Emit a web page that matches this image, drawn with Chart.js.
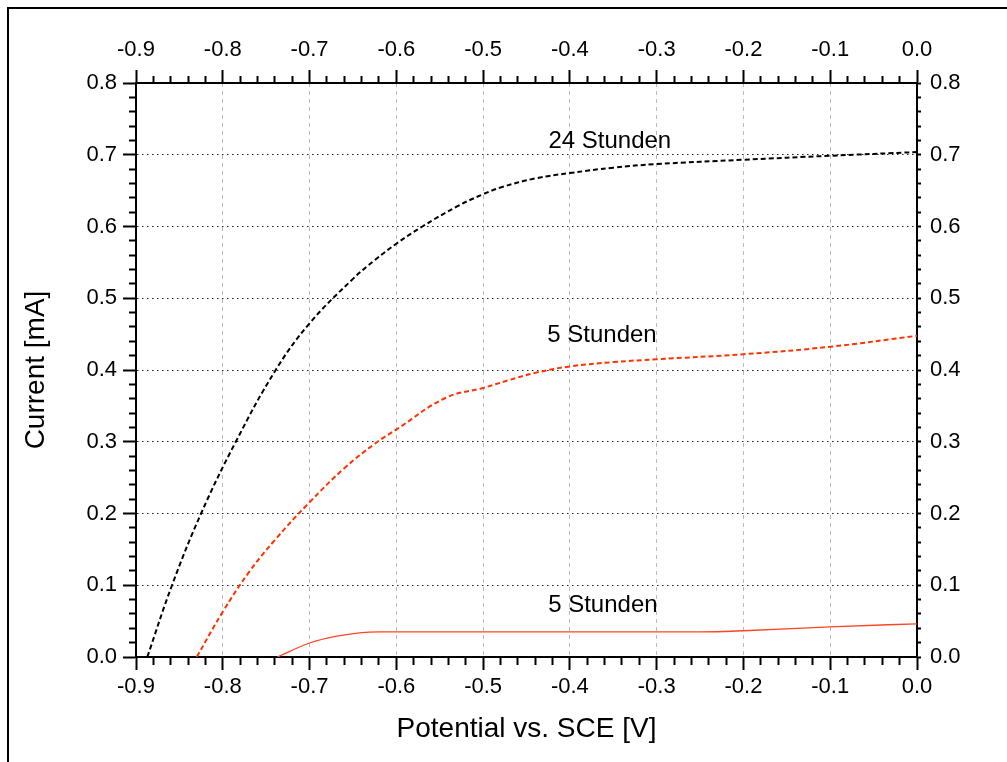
<!DOCTYPE html>
<html>
<head>
<meta charset="utf-8">
<script src="https://cdn.jsdelivr.net/npm/chart.js@4/dist/chart.umd.min.js"></script>
<style>
  html, body { margin: 0; padding: 0; background: #fff; overflow: hidden; }
  #wrap { position: relative; width: 1007px; height: 762px; }
  #frame { position: absolute; left: 7px; top: 7px; width: 1020px; height: 780px;
           border-left: 2.5px solid #000; border-top: 2.5px solid #000; }
  canvas { position: absolute; left: 0; top: 0; }
</style>
</head>
<body>
<div id="wrap">
  <div id="frame"></div>
  <canvas id="chart" width="1007" height="762"></canvas>
</div>
<script>
// Major tick labels on each axis
const potentialTicks = [-0.9, -0.8, -0.7, -0.6, -0.5, -0.4, -0.3, -0.2, -0.1, 0.0];
const currentTicks = [0.0, 0.1, 0.2, 0.3, 0.4, 0.5, 0.6, 0.7, 0.8];

// 24 Stunden (dashed, black)
const pot24h = [-0.887, -0.8585, -0.825, -0.785, -0.739, -0.700, -0.650, -0.625, -0.600, -0.570,
                -0.530, -0.500, -0.478, -0.440, -0.400, -0.350, -0.300, -0.200, -0.100, 0.000];
const cur24h = [0.000, 0.100, 0.200, 0.300, 0.400, 0.465, 0.527, 0.553, 0.576, 0.600,
                0.628, 0.645, 0.655, 0.667, 0.6745, 0.682, 0.687, 0.693, 0.6986, 0.7037];

// 5 Stunden (dashed, red)
const pot5hA = [-0.830, -0.800, -0.770, -0.740, -0.700, -0.660, -0.624, -0.600, -0.5435, -0.500,
                -0.470, -0.440, -0.400, -0.350, -0.300, -0.200, -0.100, 0.000];
const cur5hA = [0.000, 0.063, 0.118, 0.163, 0.2157, 0.263, 0.298, 0.317, 0.361, 0.375,
                0.386, 0.396, 0.405, 0.411, 0.415, 0.422, 0.4324, 0.4477];

// 5 Stunden (solid, red)
const pot5hB = [-0.737, -0.700, -0.670, -0.631, -0.620, -0.400, -0.250, -0.200, -0.100, 0.000];
const cur5hB = [0.000, 0.0195, 0.0288, 0.0348, 0.035, 0.035, 0.035, 0.0366, 0.042, 0.0463];

// Curve captions, placed in data coordinates
const curveLabels = [
  { text: '24 Stunden', x: -0.354, y: 0.718 },
  { text: '5 Stunden',  x: -0.363, y: 0.448 },
  { text: '5 Stunden',  x: -0.362, y: 0.072 }
];

const FONT = '"Liberation Sans", Arial, Helvetica, sans-serif';
Chart.defaults.font.family = FONT;
Chart.defaults.color = '#000';

const toPoints = (xs, ys) => xs.map((x, i) => ({ x: x, y: ys[i] }));
const isMajor = v => Math.abs(v * 10 - Math.round(v * 10)) < 1e-6;

// Majors plus four minor ticks between each pair
function tickList(majors) {
  const out = [];
  for (let i = 0; i < majors.length; i++) {
    out.push(majors[i]);
    if (i < majors.length - 1) {
      for (let k = 1; k < 5; k++) {
        out.push(+(majors[i] + (majors[i + 1] - majors[i]) * k / 5).toFixed(4));
      }
    }
  }
  return out;
}

function makeAxis(position, majors, o) {
  const first = majors[0], last = majors[majors.length - 1];
  const isEdge = v => Math.abs(v - first) < 1e-6 || Math.abs(v - last) < 1e-6;
  const tickVal = c => (c && c.tick) ? c.tick.value : null;
  return {
    type: 'linear',
    position: position,
    min: first,
    max: last,
    afterBuildTicks: s => { s.ticks = tickList(majors).map(v => ({ value: v })); },
    afterFit: s => { if (s.isHorizontal()) s.height = o.size; else s.width = o.size; },
    ticks: {
      autoSkip: false,
      maxRotation: 0,
      minRotation: 0,
      padding: o.pad,
      color: '#000',
      font: { size: 22, family: FONT },
      callback: v => isMajor(v) ? Math.abs(v).toFixed(1) === '0.0' ? '0.0' : v.toFixed(1) : ''
    },
    grid: {
      drawOnChartArea: o.gridOn,
      drawTicks: true,
      tickLength: o.tl,
      tickWidth: 2,
      tickColor: '#000',
      lineWidth: 1,
      color: c => {
        const v = tickVal(c);
        return (o.gridOn && v !== null && isMajor(v) && !isEdge(v)) ? o.gridColor : 'rgba(0,0,0,0)';
      },
      tickBorderDash: c => {
        const v = tickVal(c);
        return (v === null || isMajor(v) || !o.minor) ? [] : o.minor;
      },
      tickBorderDashOffset: c => {
        const v = tickVal(c);
        return (v === null || isMajor(v) || !o.minor) ? 0 : o.minorOffset;
      }
    },
    border: { display: true, color: '#000', width: 2, dash: o.dash || [] },
    title: o.title || { display: false }
  };
}

const labelPlugin = {
  id: 'curveLabels',
  afterDatasetsDraw(chart) {
    const { ctx, scales } = chart;
    ctx.save();
    ctx.font = '24px ' + FONT;
    ctx.fillStyle = '#000';
    ctx.textAlign = 'center';
    ctx.textBaseline = 'middle';
    curveLabels.forEach(l => {
      ctx.fillText(l.text, scales.x.getPixelForValue(l.x), scales.y.getPixelForValue(l.y));
    });
    ctx.restore();
  }
};

new Chart(document.getElementById('chart'), {
  type: 'line',
  data: {
    datasets: [
      {
        label: '24 Stunden',
        data: toPoints(pot24h, cur24h),
        borderColor: '#000000',
        borderWidth: 2,
        borderDash: [5, 3],
        pointRadius: 0,
        tension: 0.4,
        fill: false
      },
      {
        label: '5 Stunden',
        data: toPoints(pot5hA, cur5hA),
        borderColor: '#ff3300',
        borderWidth: 2,
        borderDash: [5, 3],
        pointRadius: 0,
        tension: 0.4,
        fill: false
      },
      {
        label: '5 Stunden',
        data: toPoints(pot5hB, cur5hB),
        borderColor: '#ff4422',
        borderWidth: 1.3,
        pointRadius: 0,
        cubicInterpolationMode: 'monotone',
        fill: false
      }
    ]
  },
  options: {
    responsive: false,
    animation: false,
    devicePixelRatio: 1,
    layout: { padding: 0 },
    plugins: { legend: { display: false }, tooltip: { enabled: false } },
    scales: {
      x: makeAxis('bottom', potentialTicks, {
        size: 105, pad: 3.5, tl: 13, gridOn: true, gridColor: '#b8b8b8', dash: [4, 4],
        minor: [7, 20], minorOffset: 0,
        title: { display: true, text: 'Potential vs. SCE [V]', color: '#000',
                 font: { size: 28, family: FONT }, padding: { top: 0, bottom: 16 } }
      }),
      x2: makeAxis('top', potentialTicks, {
        size: 83, pad: 6.5, tl: 13, gridOn: false, minor: [7, 6], minorOffset: 7
      }),
      y: makeAxis('left', currentTicks, {
        size: 136, pad: 6, tl: 13, gridOn: true, gridColor: '#222222', dash: [1.5, 3.5],
        minor: [7, 6], minorOffset: 7,
        title: { display: true, text: 'Current [mA]', color: '#000',
                 font: { size: 28, family: FONT }, padding: { top: 19, bottom: 0 } }
      }),
      y2: makeAxis('right', currentTicks, {
        size: 90, pad: 9, tl: 4, gridOn: false
      })
    }
  },
  plugins: [labelPlugin]
});
</script>
</body>
</html>
